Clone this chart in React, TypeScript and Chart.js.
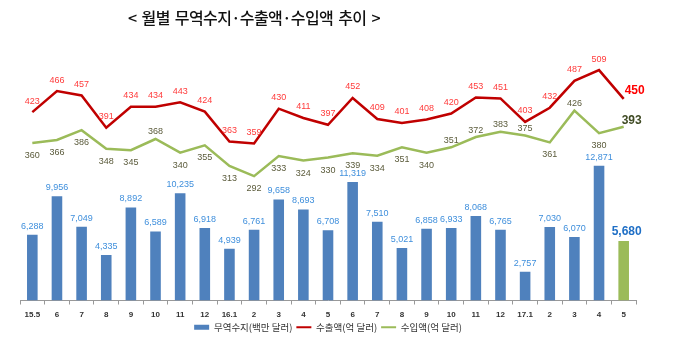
import { useEffect, useRef } from "react";
import { Chart, registerables } from "chart.js";

Chart.register(...registerables);

const categories = ["15.5", "6", "7", "8", "9", "10", "11", "12", "16.1", "2", "3", "4", "5", "6", "7", "8", "9", "10", "11", "12", "17.1", "2", "3", "4", "5"];
const tradeBalance = [6288, 9956, 7049, 4335, 8892, 6589, 10235, 6918, 4939, 6761, 9658, 8693, 6708, 11319, 7510, 5021, 6858, 6933, 8068, 6765, 2757, 7030, 6070, 12871, 5680];
const exportsData = [423, 466, 457, 391, 434, 434, 443, 424, 363, 359, 430, 411, 397, 452, 409, 401, 408, 420, 453, 451, 403, 432, 487, 509, 450];
const importsData = [360, 366, 386, 348, 345, 368, 340, 355, 313, 292, 333, 324, 330, 339, 334, 351, 340, 351, 372, 383, 375, 361, 426, 380, 393];
const seriesNames = ["무역수지(백만 달러)", "수출액(억 달러)", "수입액(억 달러)"];
const titleText = "< 월별 무역수지·수출액·수입액 추이 >";
// indices of import labels placed above the line (others below)
const importLabelAbove = [5, 17, 18, 19, 20, 22];

const BLUE = "#4f81bd";
const GREEN = "#9bbb59";
const RED = "#c00000";

export default function App() {
  const ref = useRef<HTMLCanvasElement>(null);

  useEffect(() => {
    document.body.style.margin = "0";
    const last = categories.length - 1;
    const fmt = (v: number) => v.toLocaleString("en-US");

    const labelPlugin = {
      id: "valueLabels",
      afterDatasetsDraw(chart: any) {
        const ctx = chart.ctx;
        ctx.save();
        ctx.textBaseline = "middle";
        // bar labels
        chart.getDatasetMeta(0).data.forEach((el: any, i: number) => {
          const t = fmt(tradeBalance[i]);
          ctx.textAlign = "center";
          if (i === last) {
            ctx.font = "bold 12px 'Liberation Sans'";
            ctx.fillStyle = "#1f6fc6";
            ctx.fillText(t, el.x + 3, el.y - 9);
          } else {
            ctx.font = "9px 'Liberation Sans'";
            ctx.fillStyle = "#3f8fdc";
            ctx.fillText(t, el.x, el.y - 8.5);
          }
        });
        // export labels
        chart.getDatasetMeta(1).data.forEach((el: any, i: number) => {
          const t = String(exportsData[i]);
          if (i === last) {
            ctx.textAlign = "left";
            ctx.font = "bold 12px 'Liberation Sans'";
            ctx.fillStyle = "#ff0000";
            ctx.fillText(t, el.x + 1, el.y - 8);
          } else {
            ctx.textAlign = "center";
            ctx.font = "9px 'Liberation Sans'";
            ctx.fillStyle = "#ff3b3b";
            ctx.fillText(t, el.x, el.y - 11);
          }
        });
        // import labels
        chart.getDatasetMeta(2).data.forEach((el: any, i: number) => {
          const t = String(importsData[i]);
          if (i === last) {
            ctx.textAlign = "left";
            ctx.font = "bold 12px 'Liberation Sans'";
            ctx.fillStyle = "#3f4a23";
            ctx.fillText(t, el.x - 2, el.y - 6);
          } else {
            ctx.textAlign = "center";
            ctx.font = "9px 'Liberation Sans'";
            ctx.fillStyle = "#5b5b3b";
            const above = importLabelAbove.includes(i);
            ctx.fillText(t, el.x, above ? el.y - 7 : el.y + 12.5);
          }
        });
        ctx.restore();
      },
    };

    const chart = new Chart(ref.current!, {
      type: "bar",
      data: {
        labels: categories,
        datasets: [
          {
            type: "bar",
            label: seriesNames[0],
            data: tradeBalance,
            yAxisID: "y",
            backgroundColor: (c: any) => (c.dataIndex === last ? GREEN : BLUE),
            borderWidth: 0,
            barPercentage: 0.43,
            categoryPercentage: 1,
          },
          {
            type: "line",
            label: seriesNames[1],
            data: exportsData,
            yAxisID: "y1",
            borderColor: RED,
            backgroundColor: RED,
            borderWidth: 2.5,
            pointRadius: 0,
            tension: 0,
          },
          {
            type: "line",
            label: seriesNames[2],
            data: importsData,
            yAxisID: "y1",
            borderColor: GREEN,
            backgroundColor: GREEN,
            borderWidth: 2.5,
            pointRadius: 0,
            tension: 0,
          },
        ] as any,
      },
      options: {
        animation: false,
        responsive: false,
        layout: { padding: { top: 40, left: 20, right: 44, bottom: -4 } },
        plugins: {
          tooltip: { enabled: false },
          title: { display: false },
          legend: {
            display: true,
            position: "bottom",
            labels: {
              usePointStyle: true,
              pointStyleWidth: 15,
              boxHeight: 5,
              padding: 4,
              color: "#333",
              font: { size: 9.5, family: "'Noto Sans CJK KR'" },
              sort: (a: any, b: any) => a.datasetIndex - b.datasetIndex,
              generateLabels(ch: any) {
                const items = (Chart.defaults.plugins.legend.labels as any).generateLabels(ch);
                items.forEach((it: any) => {
                  if (it.datasetIndex === 0) {
                    it.pointStyle = "rect";
                    it.fillStyle = BLUE;
                    it.strokeStyle = BLUE;
                    it.lineWidth = 0;
                  } else {
                    it.pointStyle = "line";
                    it.lineWidth = 2;
                  }
                });
                return items;
              },
            },
          },
        },
        scales: {
          x: {
            offset: true,
            grid: { display: true, drawOnChartArea: false, drawTicks: true, tickLength: 4, color: "#999", offset: true },
            border: { display: true, color: "#999" },
            ticks: {
              font: { size: 8, weight: "bold", family: "'Liberation Sans'" },
              color: "#333",
              padding: 5,
              maxRotation: 0,
              autoSkip: false,
            },
            afterFit: (s: any) => {
              s.height = 18;
            },
          },
          y: { display: false, min: 0, max: 24880 },
          y1: { display: false, min: 37.7, max: 570.5 },
        },
      } as any,
      plugins: [labelPlugin],
    });
    return () => chart.destroy();
  }, []);

  return (
    <div style={{ position: "relative", width: 680, height: 338, background: "#fff" }}>
      <canvas ref={ref} width={680} height={338} style={{ display: "block" }} />
      <div
        style={{
          position: "absolute",
          left: 0,
          top: 5,
          width: 508,
          textAlign: "center",
          fontFamily: "'Noto Sans CJK KR'",
          fontSize: 16,
          fontWeight: 500,
          letterSpacing: "-0.6px",
          wordSpacing: "2px",
          lineHeight: "24px",
          color: "#111",
        }}
      >
        {titleText}
      </div>
    </div>
  );
}
